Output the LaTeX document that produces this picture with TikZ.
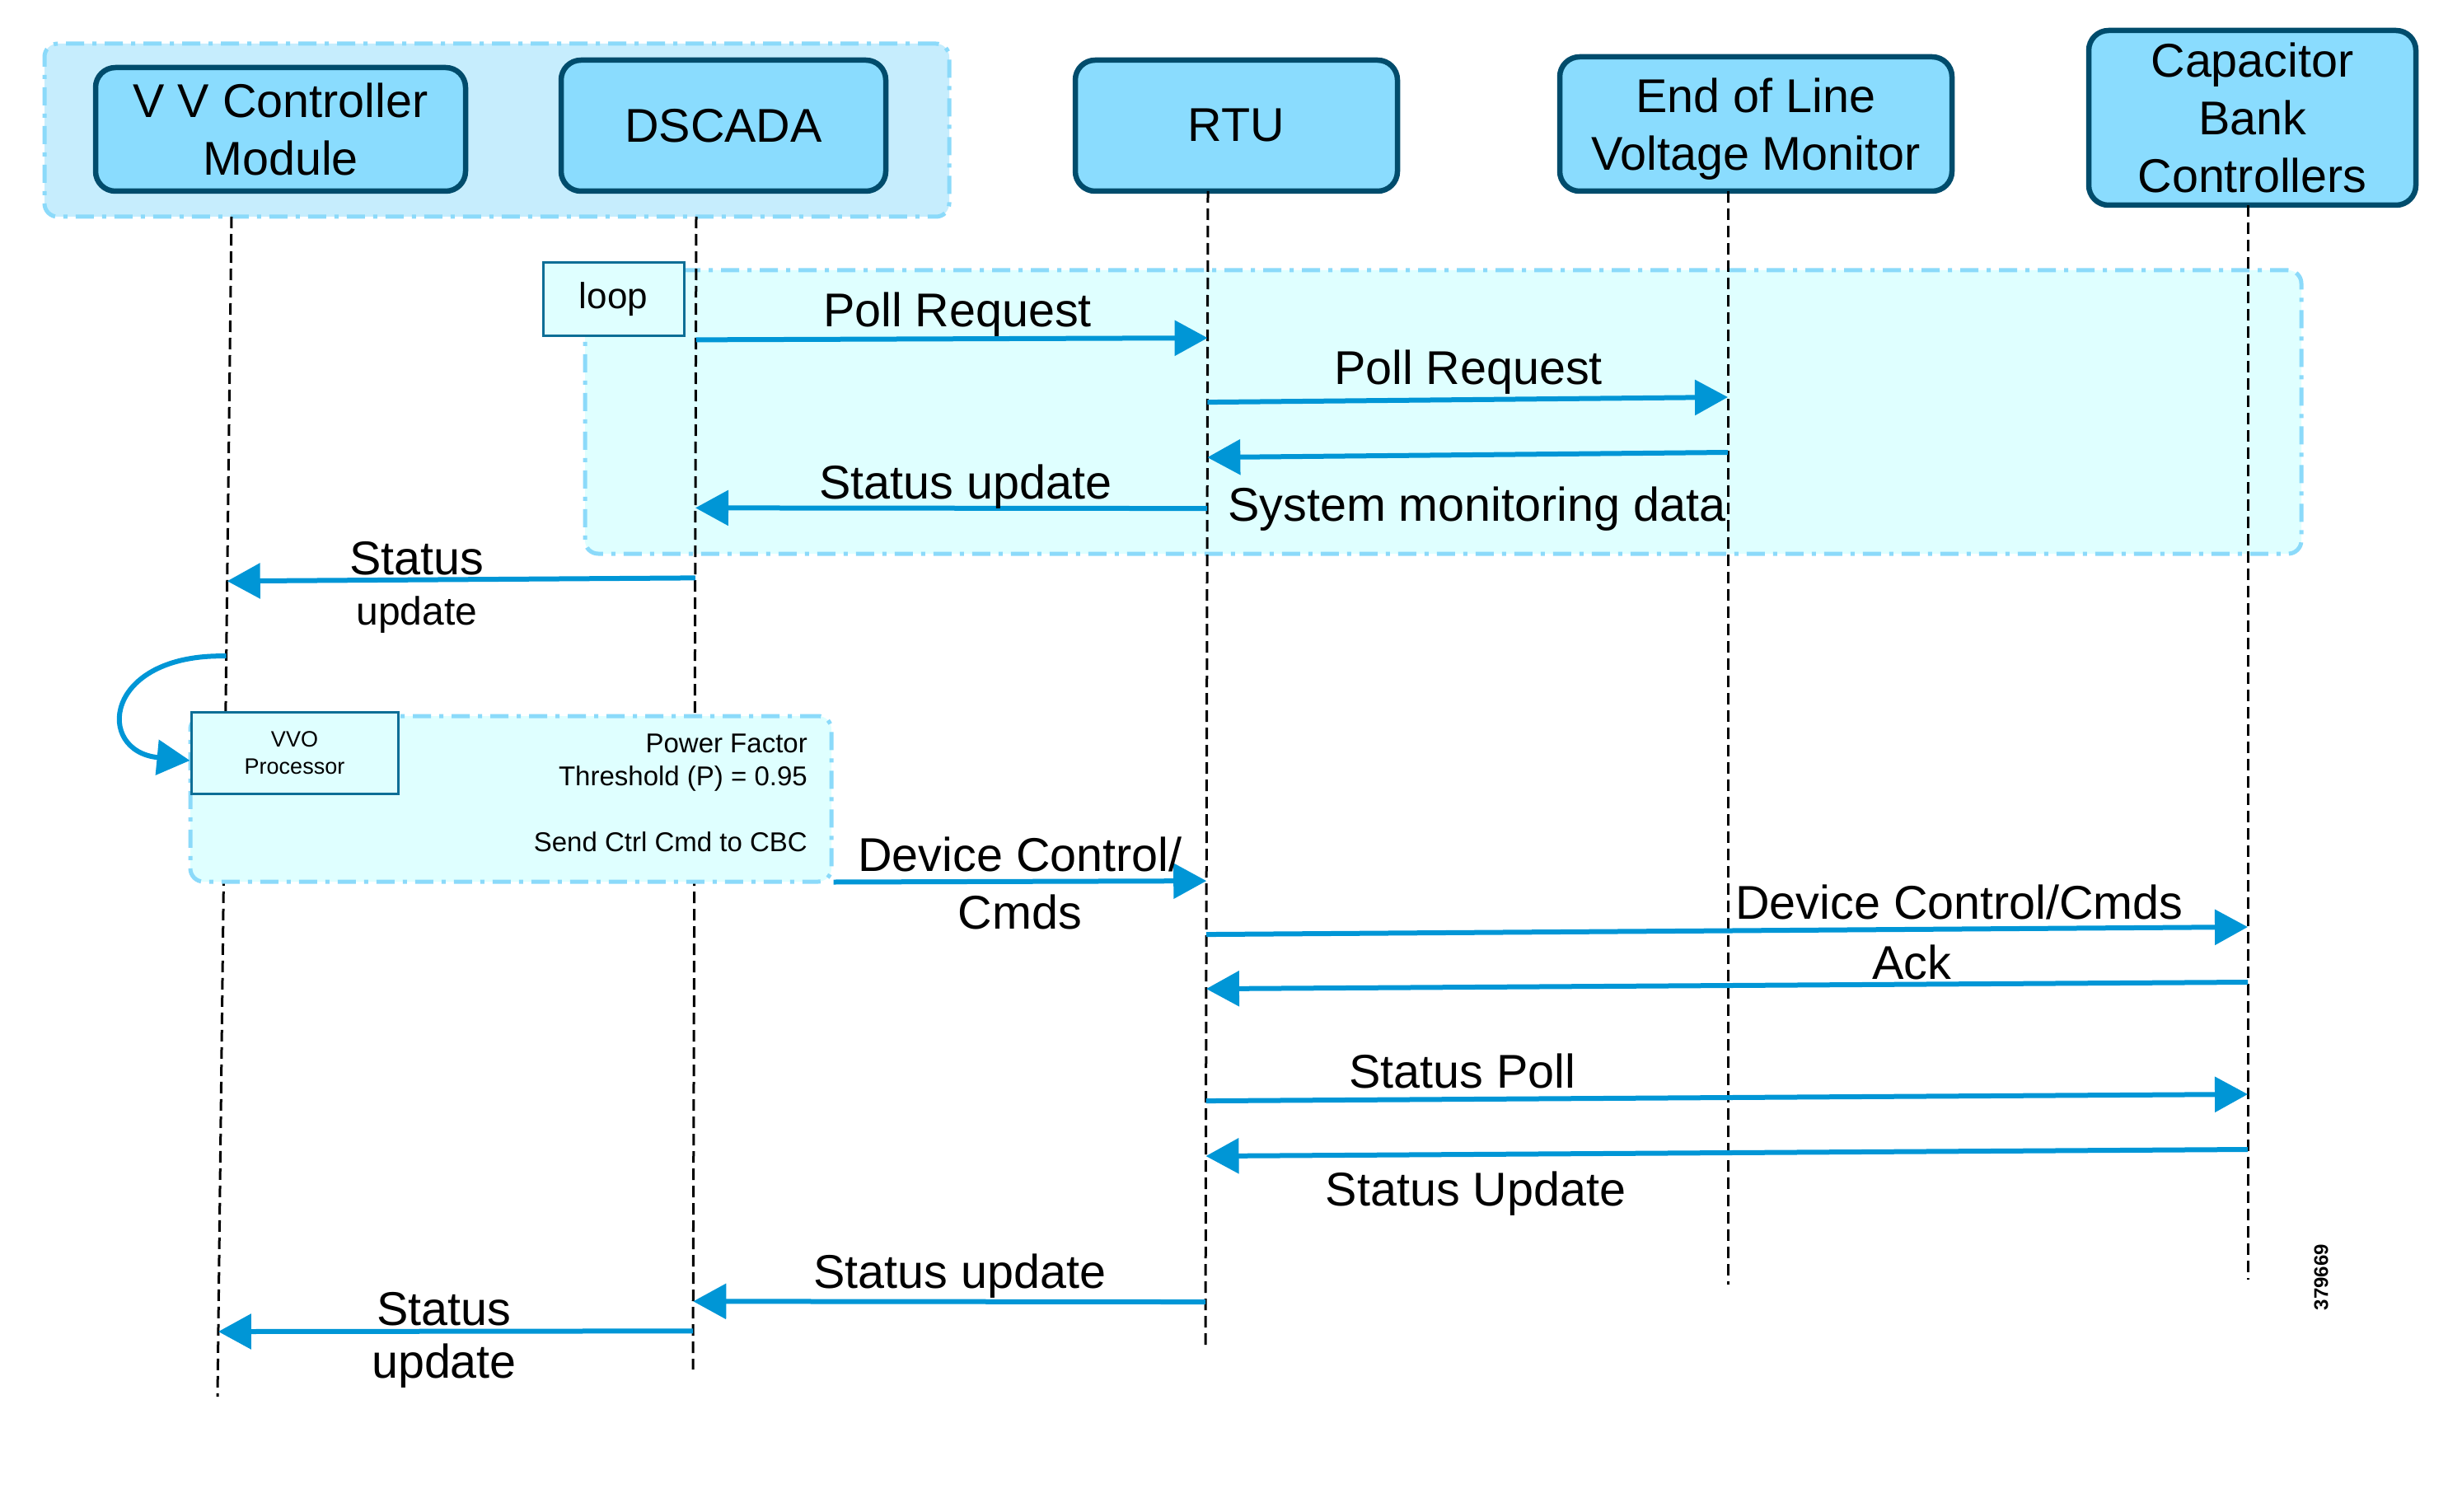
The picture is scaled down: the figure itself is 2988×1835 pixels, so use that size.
\documentclass[tikz,border=0pt]{standalone}
\usepackage{fontspec}
\setmainfont{Liberation Sans}
\usetikzlibrary{arrows.meta,calc}
\definecolor{boxfill}{HTML}{8ADCFE}
\definecolor{boxline}{HTML}{004C6C}
\definecolor{grpfill}{HTML}{C6EDFD}
\definecolor{grpline}{HTML}{8BDAFA}
\definecolor{loopfill}{HTML}{DFFFFF}
\definecolor{tagline}{HTML}{0D6E96}
\definecolor{msgcol}{HTML}{0096D6}
\begin{document}
\begin{tikzpicture}[x=1pt,y=-1pt,
  actor/.style={draw=boxline, line width=6.5pt, fill=boxfill, rounded corners=24pt, align=center, inner sep=0pt, font=\fontsize{57.5}{70}\selectfont},
  grp/.style={draw=grpline, line width=5pt, dash pattern=on 22pt off 10pt on 5pt off 10pt, rounded corners=16pt, inner sep=0pt},
  life/.style={draw=black, line width=3pt, dash pattern=on 14pt off 7pt},
  msg/.style={draw=msgcol, line width=6pt, -{Triangle[length=40pt,width=42pt]}},
  lbl/.style={anchor=base, inner sep=0pt, font=\fontsize{57.5}{70}\selectfont},
  tagbox/.style={draw=tagline, line width=3pt, fill=loopfill, inner sep=0pt},
  notetxt/.style={anchor=base east, inner sep=0pt, font=\fontsize{33}{38}\selectfont}
]
\useasboundingbox (0,0) rectangle (2988,1835);
\fill[white] (0,0) rectangle (2988,1835);

% top group
\node[grp, fill=grpfill, minimum width=1098pt, minimum height=210pt] (grpA) at (603,158) {};
\node[actor, minimum width=449pt, minimum height=150pt] (vv) at (340.5,157) {V V Controller\\Module};
\node[actor, minimum width=394pt, minimum height=159pt] (dsc) at (878,152.5) {DSCADA};
\node[actor, minimum width=391pt, minimum height=159pt] (rtu) at (1500.5,152.5) {RTU};
\node[actor, minimum width=476pt, minimum height=163pt] (eol) at (2131,150.5) {End of Line\\\raisebox{0pt}[\height][0pt]{Voltage Monitor}};
\node[actor, minimum width=397pt, minimum height=212pt] (cbc) at (2733.5,143) {Capacitor\\Bank\\Controllers};

% loop frame
\node[grp, fill=loopfill, minimum width=2083pt, minimum height=344pt] (loopbox) at (1751.5,500) {};
\node[tagbox, minimum width=171pt, minimum height=88pt, font=\fontsize{44}{50}\selectfont] (looptag) at (744.5,363) {loop};

% lifelines
\coordinate (vvT) at (281,263);  \coordinate (vvB) at (264,1695);
\coordinate (dsT) at (845,263);  \coordinate (dsB) at (841,1662);
\coordinate (rtT) at (1466,232); \coordinate (rtB) at (1463,1633);
\coordinate (eoT) at (2097,232); \coordinate (eoB) at (2097,1559);
\coordinate (cbT) at (2728,249); \coordinate (cbB) at (2728,1553);
\draw[life] (vvT) -- (vvB);
\draw[life] (dsT) -- (dsB);
\draw[life] (rtT) -- (rtB);
\draw[life] (eoT) -- (eoB);
\draw[life] (cbT) -- (cbB);

% VVO group (covers lifelines)
\node[grp, fill=loopfill, minimum width=778pt, minimum height=201pt] (vvogrp) at (620,969.5) {};
\node[tagbox, minimum width=251pt, minimum height=99pt, align=center, font=\fontsize{27}{33}\selectfont] (vvo) at (357.5,913.5) {VVO\\Processor};
\node[notetxt] (n1) at (980,913) {Power Factor};
\node[notetxt] (n2) at (980,953) {Threshold (P) = 0.95};
\node[notetxt] (n3) at (980,1033) {Send Ctrl Cmd to CBC};

% messages
\draw[msg] ($(dsT)!(0,410)!(dsB)$) -- ($(rtT)!(0,407)!(rtB)$);
\draw[msg] ($(rtT)!(0,485)!(rtB)$) -- ($(eoT)!(0,482)!(eoB)$);
\draw[msg] ($(eoT)!(0,549)!(eoB)$) -- ($(rtT)!(0,552)!(rtB)$);
\draw[msg] ($(rtT)!(0,614)!(rtB)$) -- ($(dsT)!(0,614)!(dsB)$);
\draw[msg] ($(dsT)!(0,699)!(dsB)$) -- ($(vvT)!(0,702)!(vvB)$);
\draw[msg] ($(vvT)!(0,793)!(vvB)$) .. controls (125,793) and (115,912) .. ([yshift=-9.5pt]vvo.west);
\draw[msg] ([yshift=2pt]vvogrp.south east) -- ($(rtT)!(0,1066)!(rtB)$);
\draw[msg] ($(rtT)!(0,1131)!(rtB)$) -- ($(cbT)!(0,1125)!(cbB)$);
\draw[msg] ($(cbT)!(0,1192)!(cbB)$) -- ($(rtT)!(0,1197)!(rtB)$);
\draw[msg] ($(rtT)!(0,1333)!(rtB)$) -- ($(cbT)!(0,1328)!(cbB)$);
\draw[msg] ($(cbT)!(0,1395)!(cbB)$) -- ($(rtT)!(0,1400)!(rtB)$);
\draw[msg] ($(rtT)!(0,1577)!(rtB)$) -- ($(dsT)!(0,1577)!(dsB)$);
\draw[msg] ($(dsT)!(0,1613)!(dsB)$) -- ($(vvT)!(0,1613)!(vvB)$);

% labels
\node[lbl] (l1) at (1162,396) {Poll Request};
\node[lbl] (l2) at (1782,466) {Poll Request};
\node[lbl, anchor=base west] (l3) at (1490,632) {System monitoring data};
\node[lbl] (l4) at (1172,605) {Status update};
\node[lbl] (l5a) at (506,697) {Status};
\node[lbl, font=\fontsize{48}{56}\selectfont] (l5b) at (506,758) {update};
\node[lbl] (l6a) at (1238,1057) {Device Control/};
\node[lbl] (l6b) at (1238,1127) {Cmds};
\node[lbl] (l7) at (2378,1115) {Device Control/Cmds};
\node[lbl] (l8) at (2320,1188) {Ack};
\node[lbl] (l9) at (1775,1320) {Status Poll};
\node[lbl] (l10) at (1791,1463) {Status Update};
\node[lbl] (l11) at (1165,1563) {Status update};
\node[lbl] (l12a) at (539,1608) {Status};
\node[lbl] (l12b) at (539,1672) {update};

\node[rotate=90, inner sep=0pt, font=\bfseries\fontsize{24}{28}\selectfont] (fignum) at (2817,1550) {379669};
\end{tikzpicture}
\end{document}
